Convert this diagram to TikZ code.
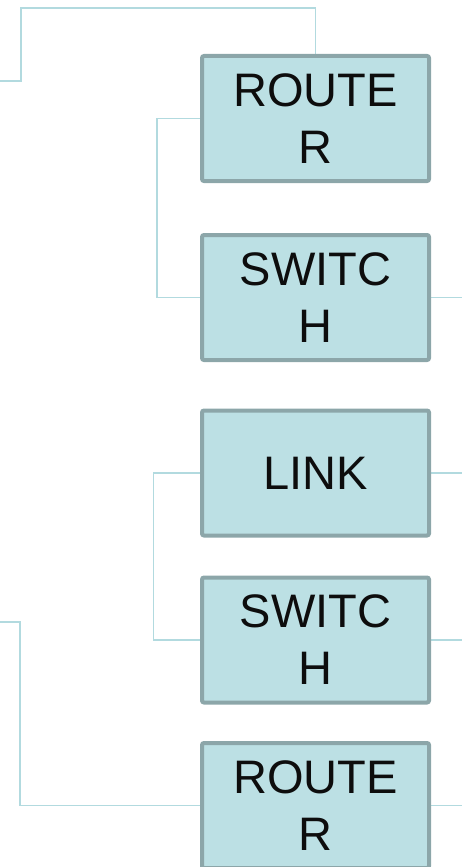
\documentclass[tikz,border=0pt]{standalone}
\usepackage{fontspec}
\setmainfont{Liberation Sans}
\usetikzlibrary{backgrounds}
\definecolor{boxfill}{HTML}{BCE0E4}
\definecolor{boxedge}{HTML}{8CA6A9}
\definecolor{wire}{HTML}{B2DADF}
\begin{document}
\begin{tikzpicture}[x=1pt,y=-1pt,
  devbox/.style={draw=boxedge, fill=boxfill, line width=4pt, rounded corners=2pt,
    minimum width=227pt, minimum height=125pt, inner sep=0pt, outer sep=0pt,
    align=center, font=\fontsize{47}{57}\selectfont, text=black!95},
  wireline/.style={draw=wire, line width=1.8pt}]
\useasboundingbox (0,0) rectangle (462,867);
\node[devbox] (r1) at (315.5,118.5) {ROUTE\\R};
\node[devbox] (s1) at (315.5,297.5) {SWITC\\H};
\node[devbox] (l1) at (315.5,473) {LINK};
\node[devbox] (s2) at (315.5,640) {SWITC\\H};
\node[devbox] (r2) at (315.5,805.5) {ROUTE\\R};
\coordinate (tl) at (0,81);
\coordinate (bl) at (0,622);
\coordinate (e1) at (462,297.5);
\coordinate (e2) at (462,473);
\coordinate (e3) at (462,640);
\coordinate (e4) at (462,805.5);
\begin{scope}[on background layer]
\draw[wireline] (tl) -- (21,81) -- (21,8) -| (r1.north);
\draw[wireline] (r1.west) -- (157,118.5) |- (s1.west);
\draw[wireline] (l1.west) -- (153.5,473) |- (s2.west);
\draw[wireline] (bl) -- (20,622) |- (r2.west);
\draw[wireline] (s1.east) -- (e1);
\draw[wireline] (l1.east) -- (e2);
\draw[wireline] (s2.east) -- (e3);
\draw[wireline] (r2.east) -- (e4);
\end{scope}
\end{tikzpicture}
\end{document}
